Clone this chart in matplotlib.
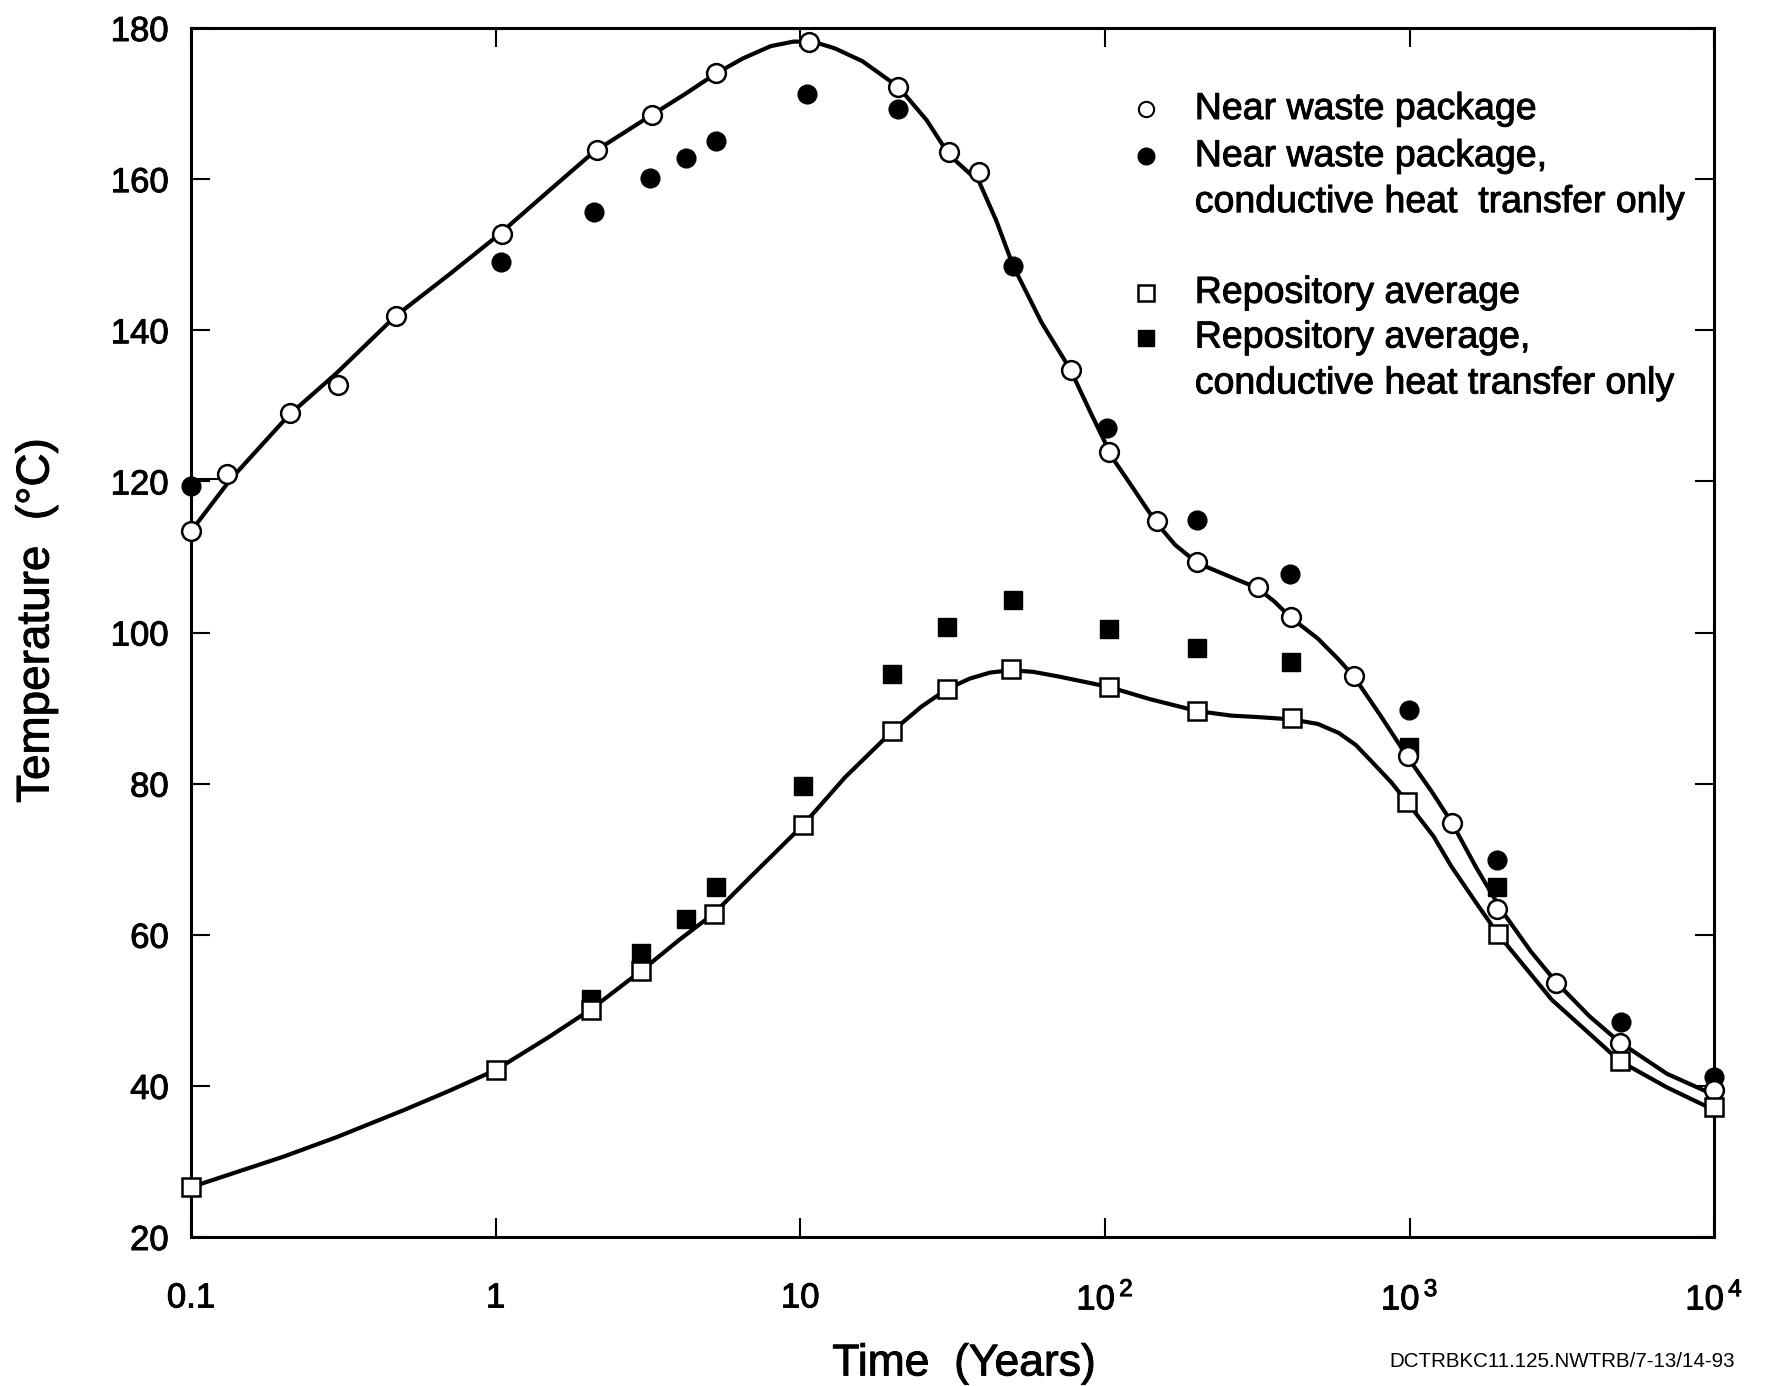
import numpy as np
import matplotlib
matplotlib.use("Agg")
import matplotlib.pyplot as plt
import matplotlib.patheffects as pe
from matplotlib.ticker import FixedLocator, NullLocator

plt.rcParams['font.family'] = ['Liberation Sans', 'DejaVu Sans']
plt.rcParams['mathtext.fontset'] = 'custom'
plt.rcParams['mathtext.rm'] = 'Liberation Sans'

# near waste package (open circles)
near_t = [0.1, 0.131, 0.212, 0.303, 0.471, 1.05, 2.15, 3.26, 5.3, 10.7, 21, 30.8, 38.7,
          77.2, 103.5, 148, 201, 318, 407, 656, 986, 1374, 1932, 3034, 4890, 10000]
near_T = [113.4, 121.0, 129.0, 132.8, 141.9, 152.7, 163.9, 168.5, 174.0, 178.2, 172.2, 163.6, 160.9,
          134.8, 123.9, 114.8, 109.3, 106.0, 102.1, 94.2, 83.7, 74.8, 63.4, 53.6, 45.7, 39.4]

# near waste package, conductive only (filled circles)
near_cond_t = [0.1, 1.04, 2.1, 3.2, 4.2, 5.3, 10.5, 21, 50, 101.6, 201, 404, 995, 1932, 4950, 10000]
near_cond_T = [119.4, 149.0, 155.7, 160.1, 162.8, 165.1, 171.2, 169.3, 148.5, 127.0, 114.9, 107.8,
               89.7, 69.9, 48.5, 41.2]

# repository average (open squares)
repo_t = [0.1, 1.0, 2.05, 3.0, 5.2, 10.2, 20, 30.3, 49.2, 103, 201, 410, 980, 1950, 4890, 10000]
repo_T = [26.6, 42.1, 50.1, 55.2, 62.8, 74.5, 86.9, 92.5, 95.2, 92.8, 89.6, 88.7, 77.6, 60.1, 43.3, 37.2]

# repository average, conductive only (filled squares)
repo_cond_t = [2.05, 3.0, 4.2, 5.3, 10.2, 20, 30.3, 50, 103, 201, 407, 995, 1932]
repo_cond_T = [51.5, 57.6, 62.1, 66.3, 79.7, 94.5, 100.7, 104.3, 100.4, 97.9, 96.1, 84.8, 66.3]

# smooth curves
near_curve_t = [0.1, 0.135, 0.21, 0.3, 0.47, 0.7, 1.0, 1.5, 2.1, 3.2, 4.2, 5.3, 6.5, 8.0, 9.5,
                11, 13, 16, 21, 26, 30.8, 38.7, 44, 50, 62, 77, 90, 100, 103, 120, 147, 170,
                201, 250, 316, 360, 407, 500, 586, 656, 800, 986, 1180, 1374, 1650, 2000, 2500,
                3034, 3900, 4890, 7000, 10000]
near_curve_T = [113.4, 120.3, 128.8, 134.3, 141.9, 147.3, 152.3, 158.5, 163.6, 168.3, 171.3, 174.0,
                176.0, 177.6, 178.2, 178.2, 177.3, 175.6, 172.2, 167.8, 163.2, 159.6, 154.5, 148.5,
                141.0, 134.8, 129.0, 125.2, 123.8, 119.9, 114.6, 111.6, 109.2, 107.6, 105.9, 104.1,
                102.0, 99.2, 96.4, 94.2, 89.1, 83.5, 79.0, 74.9, 69.0, 63.3, 57.8, 53.7, 49.2,
                45.8, 41.6, 38.8]

repo_curve_t = [0.1, 0.2, 0.3, 0.5, 0.7, 1.0, 1.5, 2.05, 3.0, 4.0, 5.2, 7.0, 10.2, 14, 20, 25,
                30.3, 36, 42, 49, 58, 70, 85, 103, 140, 201, 260, 320, 410, 500, 586, 667, 752,
                870, 980, 1200, 1374, 1650, 1950, 2930, 4000, 4890, 7000, 10000]
repo_curve_T = [26.6, 30.6, 33.2, 36.8, 39.3, 42.1, 46.5, 50.1, 55.2, 59.3, 62.8, 68.0, 74.5, 80.8,
                86.9, 90.2, 92.5, 93.9, 94.7, 95.0, 94.8, 94.2, 93.5, 92.8, 91.2, 89.6, 89.0, 88.8,
                88.5, 87.9, 86.7, 85.1, 82.9, 80.2, 77.6, 73.0, 69.0, 64.3, 60.1, 51.4, 46.5, 43.3,
                39.8, 36.8]

xticks = [0.1, 1, 10, 100, 1000, 10000]
xtick_labels = ['0.1', '1', '10', r'$10^{\,2}$', r'$10^{\,3}$', r'$10^{\,4}$']
yticks = [20, 40, 60, 80, 100, 120, 140, 160, 180]

ink = [pe.withStroke(linewidth=0.7, foreground='black')]

fig = plt.figure(figsize=(17.67, 13.86), dpi=100)
ax = fig.add_axes([0.1081, 0.1075, 0.862, 0.8723])

lw = 3.0
ax.plot(near_curve_t, near_curve_T, color='black', lw=lw, zorder=2, solid_joinstyle='round')
ax.plot(repo_curve_t, repo_curve_T, color='black', lw=lw, zorder=2, solid_joinstyle='round')
# short connector at the left edge
ax.plot([near_cond_t[0], near_t[1]], [120.3, 120.3], color='black', lw=1.5, zorder=2)

ms = 13.5
ax.plot(near_cond_t, near_cond_T, 'o', ms=ms, mfc='black', mec='black', zorder=3, clip_on=False)
ax.plot(repo_cond_t, repo_cond_T, 's', ms=ms - 1, mfc='black', mec='black', zorder=3, clip_on=False)
ax.plot(near_t, near_T, 'o', ms=ms, mfc='white', mec='black', mew=1.8, zorder=4, clip_on=False)
ax.plot(repo_t, repo_T, 's', ms=ms - 1, mfc='white', mec='black', mew=1.8, zorder=4, clip_on=False)

ax.set_xscale('log')
ax.set_xlim(0.1, 10000)
ax.set_ylim(20, 180)
ax.xaxis.set_major_locator(FixedLocator(xticks))
ax.xaxis.set_minor_locator(NullLocator())
ax.set_xticklabels(xtick_labels)
ax.set_yticks(yticks)

ax.tick_params(axis='both', which='major', direction='in', length=14, width=1.5,
               top=True, right=True, labelsize=25)
ax.tick_params(axis='x', pad=32)
ax.tick_params(axis='y', pad=16)
for lab in ax.get_xticklabels() + ax.get_yticklabels():
    lab.set_path_effects(ink)
for s in ax.spines.values():
    s.set_linewidth(2.2)

ax.set_xlabel('Time  (Years)', fontsize=32, path_effects=ink)
ax.xaxis.set_label_coords(0.5075, -0.088)
ax.set_ylabel('Temperature  (°C)', fontsize=33, path_effects=ink)
ax.yaxis.set_label_coords(-0.087, 0.51)

# legend drawn by hand
leg_x, txt_x = 0.627, 0.659
fs = 27
kw = dict(fontsize=fs, va='center', transform=ax.transAxes, path_effects=ink)
ax.plot([leg_x], [0.933], 'o', ms=11, mfc='white', mec='black', mew=1.5, transform=ax.transAxes)
ax.text(txt_x, 0.933, 'Near waste package', **kw)
ax.plot([leg_x], [0.894], 'o', ms=12, mfc='black', mec='black', transform=ax.transAxes)
ax.text(txt_x, 0.894, 'Near waste package,', **kw)
ax.text(txt_x, 0.856, 'conductive heat  transfer only', **kw)
ax.plot([leg_x], [0.781], 's', ms=11, mfc='white', mec='black', mew=1.8, transform=ax.transAxes)
ax.text(txt_x, 0.781, 'Repository average', **kw)
ax.plot([leg_x], [0.744], 's', ms=11, mfc='black', mec='black', transform=ax.transAxes)
ax.text(txt_x, 0.744, 'Repository average,', **kw)
ax.text(txt_x, 0.706, 'conductive heat transfer only', **kw)

fig.text(0.982, 0.018, 'DCTRBKC11.125.NWTRB/7-13/14-93', fontsize=14.8, ha='right', va='center')

fig.savefig('out.png', dpi=100)
